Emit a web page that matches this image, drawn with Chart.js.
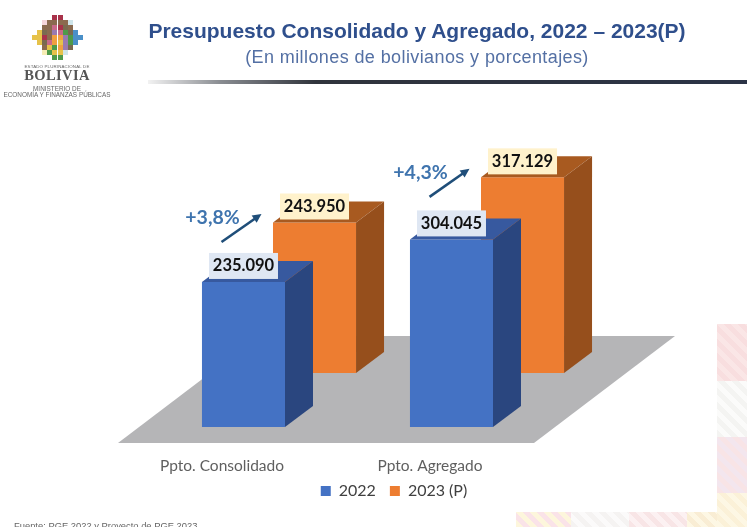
<!DOCTYPE html>
<html>
<head>
<meta charset="utf-8">
<script src="https://cdn.jsdelivr.net/npm/chart.js@4"></script>
<style>
    html, body { margin: 0; padding: 0; background: #fff; }
    #page { position: relative; width: 747px; height: 527px; overflow: hidden; background: #fff; }
    #page div { position: absolute; }
    canvas { position: absolute; left: 0; top: 0; }
    .center { text-align: center; white-space: nowrap; }
    #title { left: 88px; width: 658px; top: 19px; font: bold 21px "Liberation Sans", Arial, sans-serif; color: #2f4f8c; }
    #subtitle { left: 88px; width: 658px; top: 47px; font: 18px "Liberation Sans", Arial, sans-serif; letter-spacing: .4px; color: #5470a4; }
    #rule { left: 148px; right: 0; top: 80px; height: 4px; background: linear-gradient(90deg, #f2f2f2 0%, #8a8d92 12%, #30343c 28%, #2b3346 100%); }
    #logo { left: 32px; top: 15px; filter: blur(0.5px); }
    .logoText { left: 0; width: 114px; font-family: "Liberation Sans", Arial, sans-serif; color: #666; }
    #source { left: 14px; top: 520px; font: 9.4px "Liberation Sans", Arial, sans-serif; color: #666; white-space: nowrap; }
</style>
</head>
<body>
<div id="page">
    <div id="deco"></div>
    <canvas id="budgetChart" width="747" height="527"></canvas>
    <div id="logo"></div>
    <div class="logoText center" style="top:64px;font-size:4.4px;letter-spacing:.15px">ESTADO PLURINACIONAL DE</div>
    <div class="logoText center" style="top:67px;font:bold 14.5px 'Liberation Serif',serif;letter-spacing:.4px;color:#555">BOLIVIA</div>
    <div class="logoText center" style="top:85px;font-size:6.4px">MINISTERIO DE</div>
    <div class="logoText center" style="top:91px;font-size:6.4px">ECONOMÍA Y FINANZAS PÚBLICAS</div>
    <div id="title" class="center">Presupuesto Consolidado y Agregado, 2022 – 2023(P)</div>
    <div id="subtitle" class="center">(En millones de bolivianos y porcentajes)</div>
    <div id="rule"></div>
    <div id="source">Fuente: PGE 2022 y Proyecto de PGE 2023</div>
</div>
<script>
const categories = ['Ppto. Consolidado', 'Ppto. Agregado'];
const seriesNames = ['2022', '2023 (P)'];
const values2022 = [235090, 304045];
const values2023 = [243950, 317129];
const growthLabels = ['+3,8%', '+4,3%'];

const seriesColors = ['#4472c4', '#ed7d31'];
const topColors = ['#37599f', '#a85a20'];
const sideColors = ['#2a467f', '#964f1c'];
const labelFills = ['#dfe7f3', '#fff2cc'];

const depthX = 28;
const depthY = 21;

function formatValue(v) {
    return String(v).replace(/(\d)(\d{3})$/, '$1.$2');
}

// gray floor under the bars, hung off the two baselines
const floorPlugin = {
    id: 'floor',
    beforeDatasetsDraw(chart) {
        const ctx = chart.ctx;
        const front = chart.scales.y.getPixelForValue(0) + 16;
        const back = chart.scales.y2.getPixelForValue(0) - 37;
        const left = chart.chartArea.left;
        const right = chart.chartArea.right;
        ctx.save();
        ctx.fillStyle = '#b5b5b7';
        ctx.beginPath();
        ctx.moveTo(left - 57, front);
        ctx.lineTo(right - 57, front);
        ctx.lineTo(right + 84, back);
        ctx.lineTo(left + 84, back);
        ctx.closePath();
        ctx.fill();
        ctx.restore();
    }
};

// top and side faces for each bar, right after its own dataset
const depthPlugin = {
    id: 'depth',
    afterDatasetDraw(chart, args) {
        const ctx = chart.ctx;
        const i = args.index;
        args.meta.data.forEach(bar => {
            const l = bar.x - bar.width / 2;
            const r = bar.x + bar.width / 2;
            ctx.save();
            ctx.fillStyle = topColors[i];
            ctx.beginPath();
            ctx.moveTo(l, bar.y);
            ctx.lineTo(r, bar.y);
            ctx.lineTo(r + depthX, bar.y - depthY);
            ctx.lineTo(l + depthX, bar.y - depthY);
            ctx.closePath();
            ctx.fill();
            ctx.fillStyle = sideColors[i];
            ctx.beginPath();
            ctx.moveTo(r, bar.y);
            ctx.lineTo(r + depthX, bar.y - depthY);
            ctx.lineTo(r + depthX, bar.base - depthY);
            ctx.lineTo(r, bar.base);
            ctx.closePath();
            ctx.fill();
            ctx.restore();
        });
    }
};

// value boxes, growth text and arrows
const labelPlugin = {
    id: 'valueLabels',
    afterDatasetsDraw(chart) {
        const ctx = chart.ctx;
        ctx.save();
        ctx.textAlign = 'center';
        ctx.textBaseline = 'middle';
        chart.data.datasets.forEach((ds, i) => {
            chart.getDatasetMeta(i).data.forEach((bar, j) => {
                ctx.fillStyle = labelFills[i];
                ctx.fillRect(bar.x - 34.5, bar.y - 29, 69, 26);
                ctx.fillStyle = '#111';
                ctx.font = 'bold 16.5px Lato';
                ctx.fillText(formatValue(ds.data[j]), bar.x, bar.y - 16);
            });
        });
        chart.getDatasetMeta(1).data.forEach((bar, j) => {
            ctx.fillStyle = '#3f74ae';
            ctx.font = 'bold 19.5px Lato';
            ctx.fillText(growthLabels[j], bar.x - 102, bar.y - 5);
            const x0 = bar.x - 93, y0 = bar.y + 19.5;
            const x1 = bar.x - 53, y1 = bar.y - 8.5;
            const a = Math.atan2(y1 - y0, x1 - x0);
            ctx.strokeStyle = '#1f4e79';
            ctx.fillStyle = '#1f4e79';
            ctx.lineWidth = 2.6;
            ctx.beginPath();
            ctx.moveTo(x0, y0);
            ctx.lineTo(x1 - 6 * Math.cos(a), y1 - 6 * Math.sin(a));
            ctx.stroke();
            ctx.beginPath();
            ctx.moveTo(x1, y1);
            ctx.lineTo(x1 - 10 * Math.cos(a - 0.45), y1 - 10 * Math.sin(a - 0.45));
            ctx.lineTo(x1 - 10 * Math.cos(a + 0.45), y1 - 10 * Math.sin(a + 0.45));
            ctx.closePath();
            ctx.fill();
        });
        ctx.restore();
    }
};

// legend sits off-centre in the original
const legendPlugin = {
    id: 'legendShift',
    afterLayout(chart) {
        const legend = chart.legend;
        legend.left += 11;
        legend.right += 11;
        const h = legend.bottom - legend.top;
        legend.top = 469;
        legend.bottom = legend.top + h;
    }
};

new Chart(document.getElementById('budgetChart'), {
    type: 'bar',
    data: {
        labels: categories,
        datasets: [
            { label: seriesNames[0], data: values2022, backgroundColor: seriesColors[0], borderWidth: 0, yAxisID: 'y' },
            { label: seriesNames[1], data: values2023, backgroundColor: seriesColors[1], borderWidth: 0, yAxisID: 'y2' }
        ]
    },
    options: {
        responsive: false,
        animation: false,
        devicePixelRatio: 1,
        layout: { padding: { left: 175, right: 156, top: 100, bottom: 10 } },
        categoryPercentage: 0.683,
        barPercentage: 1.169,
        scales: {
            x: {
                grid: { display: false, drawTicks: false },
                border: { display: false },
                afterFit: s => { s.height = 50; },
                ticks: {
                    labelOffset: -57,
                    padding: 30,
                    maxRotation: 0,
                    autoSkip: false,
                    color: '#5f5f5f',
                    font: { family: 'Lato', size: 15.5 }
                }
            },
            y: { display: false, min: 0, max: 530000 },
            y2: { display: false, min: -87500, max: 442500 }
        },
        plugins: {
            legend: {
                position: 'bottom',
                labels: {
                    boxWidth: 10,
                    boxHeight: 10,
                    padding: 14,
                    color: '#404040',
                    font: { family: 'Lato', size: 16 }
                }
            },
            tooltip: { enabled: false }
        }
    },
    plugins: [floorPlugin, depthPlugin, labelPlugin, legendPlugin]
});

// logo cells
const logoRows = ['....rr....', '..kttttl..', '..ttprnt..', '.yntvpgnb.', 'yyrtoovgbb', '.ynpoyvgb.', '..tygovn..', '..cgyyl...', '....gg....'];
const logoColors = { r: '#a8324a', t: '#8b6a4f', y: '#e6c24a', o: '#f0a040', g: '#4f9a4a', b: '#4a90c8', p: '#c86a8a', n: '#7a6a50', l: '#cfe5ea', k: '#f5d5da', c: '#f6ecb5', v: '#9a7ab0' };
let logoHtml = '';
logoRows.forEach((row, r) => {
    [...row].forEach((c, k) => {
        if (c !== '.') logoHtml += '<div style="left:' + (k * 5.1) + 'px;top:' + (r * 5) + 'px;width:5.1px;height:5px;background:' + logoColors[c] + '"></div>';
    });
});
document.getElementById('logo').innerHTML = logoHtml;

// pale woven strips along the right and bottom edges
const decoBlocks = [
    [717, 324, 30, 57, '#fae6e6', '#f8dedf'],
    [717, 381, 30, 56, '#f4f4f2', '#fbfbfa'],
    [717, 437, 30, 56, '#f8e4e6', '#f3e6ee'],
    [717, 493, 30, 34, '#fdf7e4', '#fbf1d8'],
    [516, 512, 55, 15, '#fdf6dc', '#fae3e8'],
    [571, 512, 58, 15, '#f5f3f2', '#fbfafa'],
    [629, 512, 58, 15, '#f8e5e6', '#fcf1f2'],
    [687, 512, 30, 15, '#fdf7e4', '#f9edd4']
];
let decoHtml = '';
decoBlocks.forEach(b => {
    decoHtml += '<div style="left:' + b[0] + 'px;top:' + b[1] + 'px;width:' + b[2] + 'px;height:' + b[3] + 'px;background:repeating-linear-gradient(45deg,' + b[4] + ' 0 5px,' + b[5] + ' 5px 10px)"></div>';
});
document.getElementById('deco').innerHTML = decoHtml;
</script>
</body>
</html>
